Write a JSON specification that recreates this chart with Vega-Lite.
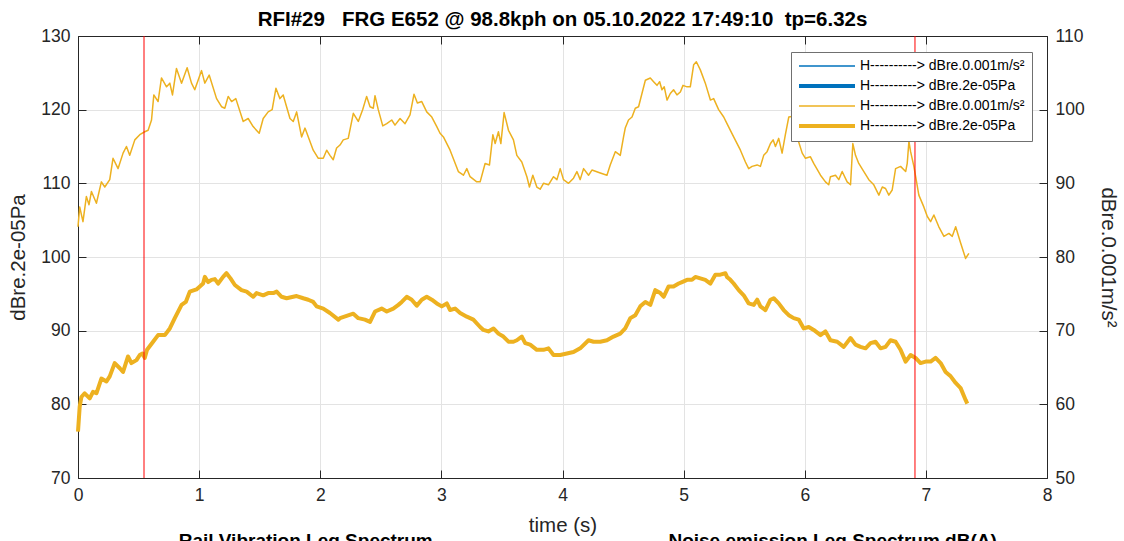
{
  "$schema": "https://vega.github.io/schema/vega-lite/v6.json",
  "width": 969,
  "height": 442,
  "autosize": {"type": "none"},
  "padding": {"left": 78, "top": 36, "right": 77, "bottom": 63},
  "background": "white",
  "title": {
    "text": "RFI#29\u00a0\u00a0\u00a0FRG E652 @ 98.8kph on 05.10.2022 17:49:10\u00a0\u00a0tp=6.32s",
    "font": "Liberation Sans",
    "fontSize": 20.5,
    "fontWeight": "bold",
    "color": "#000000",
    "anchor": "middle",
    "offset": -3
  },
  "config": {
    "view": {"stroke": "#262626", "strokeWidth": 1},
    "font": "Liberation Sans",
    "axis": {
      "labelFont": "Liberation Sans",
      "labelFontSize": 17.5,
      "labelColor": "#262626",
      "labelFlush": false,
      "titleFont": "Liberation Sans",
      "titleFontSize": 20.5,
      "titleFontWeight": "normal",
      "titleColor": "#262626",
      "domainColor": "#262626",
      "tickColor": "#262626",
      "gridColor": "#e3e3e3",
      "tickSize": -8,
      "labelPadding": 16
    },
    "legend": {
      "labelFont": "Liberation Sans"
    }
  },
  "datasets": {
    "vib": [
      {"t":0.000,"v":84.1},{"t":0.014,"v":86.8},{"t":0.041,"v":84.8},{"t":0.069,"v":88.2},{"t":0.091,"v":87.1},{"t":0.111,"v":88.9},{"t":0.152,"v":87.3},{"t":0.193,"v":90.2},{"t":0.221,"v":89.5},{"t":0.262,"v":90.5},{"t":0.289,"v":93.4},{"t":0.331,"v":92.0},{"t":0.372,"v":94.1},{"t":0.400,"v":95.0},{"t":0.427,"v":93.8},{"t":0.469,"v":95.9},{"t":0.510,"v":96.6},{"t":0.551,"v":97.0},{"t":0.579,"v":97.2},{"t":0.607,"v":98.6},{"t":0.626,"v":102.0},{"t":0.661,"v":101.1},{"t":0.689,"v":104.3},{"t":0.731,"v":103.1},{"t":0.758,"v":103.6},{"t":0.780,"v":102.0},{"t":0.813,"v":105.6},{"t":0.855,"v":103.6},{"t":0.901,"v":105.7},{"t":0.937,"v":103.6},{"t":0.964,"v":102.7},{"t":1.020,"v":105.3},{"t":1.047,"v":103.6},{"t":1.083,"v":104.7},{"t":1.144,"v":101.5},{"t":1.185,"v":100.4},{"t":1.212,"v":100.2},{"t":1.240,"v":101.8},{"t":1.268,"v":101.1},{"t":1.303,"v":101.5},{"t":1.364,"v":98.4},{"t":1.405,"v":98.8},{"t":1.446,"v":97.7},{"t":1.496,"v":96.8},{"t":1.529,"v":98.8},{"t":1.570,"v":99.7},{"t":1.603,"v":100.0},{"t":1.634,"v":102.9},{"t":1.667,"v":101.5},{"t":1.694,"v":102.0},{"t":1.750,"v":98.8},{"t":1.777,"v":98.4},{"t":1.805,"v":99.7},{"t":1.846,"v":96.3},{"t":1.874,"v":97.5},{"t":1.942,"v":94.5},{"t":1.984,"v":93.4},{"t":2.025,"v":93.4},{"t":2.053,"v":94.5},{"t":2.080,"v":93.8},{"t":2.107,"v":93.2},{"t":2.135,"v":94.8},{"t":2.163,"v":95.2},{"t":2.190,"v":95.9},{"t":2.231,"v":96.1},{"t":2.273,"v":99.5},{"t":2.314,"v":98.4},{"t":2.350,"v":100.0},{"t":2.383,"v":101.8},{"t":2.411,"v":100.4},{"t":2.438,"v":100.2},{"t":2.452,"v":101.9},{"t":2.479,"v":100.0},{"t":2.516,"v":97.8},{"t":2.549,"v":98.1},{"t":2.590,"v":98.6},{"t":2.617,"v":97.9},{"t":2.659,"v":98.8},{"t":2.700,"v":98.1},{"t":2.741,"v":99.3},{"t":2.774,"v":102.1},{"t":2.802,"v":100.9},{"t":2.838,"v":101.1},{"t":2.879,"v":99.7},{"t":2.921,"v":99.0},{"t":2.962,"v":97.7},{"t":2.989,"v":96.8},{"t":3.017,"v":96.3},{"t":3.072,"v":94.5},{"t":3.140,"v":91.6},{"t":3.182,"v":91.1},{"t":3.210,"v":92.0},{"t":3.237,"v":90.9},{"t":3.292,"v":90.2},{"t":3.320,"v":90.2},{"t":3.361,"v":92.7},{"t":3.397,"v":92.5},{"t":3.425,"v":96.6},{"t":3.444,"v":95.4},{"t":3.471,"v":97.0},{"t":3.491,"v":95.4},{"t":3.518,"v":99.6},{"t":3.554,"v":97.2},{"t":3.595,"v":95.9},{"t":3.623,"v":93.8},{"t":3.664,"v":92.9},{"t":3.706,"v":90.9},{"t":3.727,"v":89.5},{"t":3.755,"v":91.1},{"t":3.788,"v":89.5},{"t":3.816,"v":89.2},{"t":3.843,"v":90.0},{"t":3.884,"v":89.8},{"t":3.926,"v":90.9},{"t":3.954,"v":90.5},{"t":3.981,"v":92.0},{"t":4.008,"v":90.5},{"t":4.050,"v":90.0},{"t":4.091,"v":90.7},{"t":4.119,"v":91.6},{"t":4.146,"v":90.5},{"t":4.174,"v":92.0},{"t":4.215,"v":91.1},{"t":4.243,"v":91.8},{"t":4.312,"v":91.4},{"t":4.367,"v":91.1},{"t":4.394,"v":92.5},{"t":4.436,"v":94.3},{"t":4.477,"v":93.8},{"t":4.504,"v":96.3},{"t":4.518,"v":97.5},{"t":4.545,"v":98.6},{"t":4.574,"v":99.0},{"t":4.601,"v":100.2},{"t":4.628,"v":100.4},{"t":4.656,"v":102.2},{"t":4.684,"v":104.0},{"t":4.725,"v":104.3},{"t":4.752,"v":103.8},{"t":4.780,"v":103.3},{"t":4.802,"v":103.8},{"t":4.821,"v":102.7},{"t":4.840,"v":103.1},{"t":4.863,"v":101.3},{"t":4.890,"v":102.2},{"t":4.917,"v":102.7},{"t":4.945,"v":102.0},{"t":4.973,"v":102.4},{"t":4.995,"v":103.3},{"t":5.028,"v":103.1},{"t":5.055,"v":103.1},{"t":5.083,"v":106.1},{"t":5.105,"v":106.5},{"t":5.138,"v":105.4},{"t":5.179,"v":103.6},{"t":5.221,"v":101.3},{"t":5.248,"v":101.5},{"t":5.289,"v":100.0},{"t":5.331,"v":99.0},{"t":5.358,"v":98.1},{"t":5.413,"v":96.3},{"t":5.469,"v":94.5},{"t":5.510,"v":92.9},{"t":5.537,"v":92.0},{"t":5.565,"v":92.3},{"t":5.607,"v":92.5},{"t":5.634,"v":92.3},{"t":5.661,"v":93.8},{"t":5.689,"v":94.3},{"t":5.717,"v":95.4},{"t":5.739,"v":95.9},{"t":5.758,"v":95.0},{"t":5.785,"v":96.1},{"t":5.813,"v":94.1},{"t":5.840,"v":96.6},{"t":5.868,"v":99.0},{"t":5.907,"v":99.1},{"t":5.937,"v":96.3},{"t":5.979,"v":94.1},{"t":6.006,"v":93.4},{"t":6.047,"v":93.6},{"t":6.074,"v":92.7},{"t":6.130,"v":91.1},{"t":6.171,"v":90.2},{"t":6.198,"v":89.8},{"t":6.212,"v":90.9},{"t":6.254,"v":91.1},{"t":6.281,"v":90.5},{"t":6.309,"v":91.6},{"t":6.350,"v":90.2},{"t":6.378,"v":89.8},{"t":6.397,"v":95.4},{"t":6.419,"v":93.8},{"t":6.446,"v":92.7},{"t":6.488,"v":91.6},{"t":6.529,"v":90.5},{"t":6.570,"v":89.8},{"t":6.612,"v":88.4},{"t":6.640,"v":89.5},{"t":6.667,"v":89.3},{"t":6.694,"v":88.4},{"t":6.722,"v":89.1},{"t":6.750,"v":92.0},{"t":6.791,"v":92.3},{"t":6.833,"v":91.6},{"t":6.846,"v":92.7},{"t":6.860,"v":95.7},{"t":6.874,"v":94.3},{"t":6.901,"v":92.3},{"t":6.942,"v":88.4},{"t":6.983,"v":86.8},{"t":7.012,"v":85.5},{"t":7.039,"v":84.8},{"t":7.066,"v":85.7},{"t":7.107,"v":84.1},{"t":7.149,"v":82.8},{"t":7.190,"v":83.2},{"t":7.218,"v":82.8},{"t":7.246,"v":84.1},{"t":7.287,"v":81.9},{"t":7.328,"v":79.8},{"t":7.355,"v":80.5}
    ],
    "noise": [
      {"t":0.000,"v":76.3},{"t":0.014,"v":79.7},{"t":0.028,"v":81.0},{"t":0.055,"v":81.5},{"t":0.097,"v":80.8},{"t":0.124,"v":81.7},{"t":0.152,"v":81.5},{"t":0.193,"v":83.5},{"t":0.235,"v":83.1},{"t":0.262,"v":83.8},{"t":0.303,"v":85.6},{"t":0.345,"v":84.9},{"t":0.372,"v":84.4},{"t":0.413,"v":86.5},{"t":0.441,"v":85.6},{"t":0.483,"v":86.0},{"t":0.510,"v":86.7},{"t":0.532,"v":86.9},{"t":0.551,"v":86.3},{"t":0.570,"v":87.4},{"t":0.620,"v":88.5},{"t":0.661,"v":89.4},{"t":0.717,"v":89.4},{"t":0.758,"v":90.3},{"t":0.799,"v":91.7},{"t":0.855,"v":93.5},{"t":0.890,"v":93.9},{"t":0.923,"v":95.3},{"t":0.978,"v":95.6},{"t":1.006,"v":96.0},{"t":1.033,"v":96.4},{"t":1.047,"v":97.3},{"t":1.074,"v":96.6},{"t":1.102,"v":96.9},{"t":1.130,"v":97.0},{"t":1.157,"v":96.4},{"t":1.198,"v":97.3},{"t":1.226,"v":97.8},{"t":1.259,"v":97.1},{"t":1.295,"v":96.2},{"t":1.350,"v":95.5},{"t":1.392,"v":95.3},{"t":1.446,"v":94.6},{"t":1.474,"v":95.1},{"t":1.529,"v":94.8},{"t":1.570,"v":95.1},{"t":1.612,"v":95.1},{"t":1.640,"v":95.3},{"t":1.681,"v":94.6},{"t":1.722,"v":94.4},{"t":1.777,"v":94.6},{"t":1.805,"v":94.7},{"t":1.860,"v":94.4},{"t":1.901,"v":94.2},{"t":1.942,"v":93.9},{"t":1.970,"v":93.3},{"t":2.025,"v":93.0},{"t":2.080,"v":92.4},{"t":2.149,"v":91.5},{"t":2.163,"v":91.7},{"t":2.218,"v":92.0},{"t":2.273,"v":92.3},{"t":2.314,"v":91.7},{"t":2.369,"v":91.5},{"t":2.411,"v":91.2},{"t":2.452,"v":92.6},{"t":2.507,"v":93.0},{"t":2.549,"v":92.6},{"t":2.603,"v":93.0},{"t":2.645,"v":93.5},{"t":2.673,"v":93.9},{"t":2.714,"v":94.6},{"t":2.755,"v":94.2},{"t":2.797,"v":93.4},{"t":2.838,"v":94.2},{"t":2.879,"v":94.6},{"t":2.921,"v":94.2},{"t":2.962,"v":93.7},{"t":3.003,"v":93.3},{"t":3.045,"v":93.7},{"t":3.072,"v":92.8},{"t":3.113,"v":93.0},{"t":3.155,"v":92.4},{"t":3.210,"v":91.9},{"t":3.264,"v":91.5},{"t":3.320,"v":90.5},{"t":3.347,"v":90.1},{"t":3.388,"v":89.9},{"t":3.430,"v":90.3},{"t":3.471,"v":89.6},{"t":3.512,"v":89.2},{"t":3.554,"v":88.5},{"t":3.595,"v":88.5},{"t":3.623,"v":88.7},{"t":3.664,"v":89.2},{"t":3.692,"v":88.3},{"t":3.733,"v":88.1},{"t":3.788,"v":87.4},{"t":3.843,"v":87.4},{"t":3.884,"v":87.6},{"t":3.926,"v":86.7},{"t":3.981,"v":86.7},{"t":4.036,"v":86.9},{"t":4.091,"v":87.1},{"t":4.146,"v":87.6},{"t":4.215,"v":88.7},{"t":4.256,"v":88.5},{"t":4.312,"v":88.5},{"t":4.367,"v":88.7},{"t":4.421,"v":89.2},{"t":4.477,"v":89.6},{"t":4.518,"v":90.3},{"t":4.560,"v":91.7},{"t":4.601,"v":92.1},{"t":4.642,"v":93.3},{"t":4.684,"v":93.9},{"t":4.725,"v":93.5},{"t":4.766,"v":95.5},{"t":4.808,"v":95.1},{"t":4.835,"v":94.6},{"t":4.876,"v":96.0},{"t":4.917,"v":96.0},{"t":4.959,"v":96.4},{"t":4.987,"v":96.6},{"t":5.028,"v":96.9},{"t":5.069,"v":96.9},{"t":5.097,"v":97.3},{"t":5.138,"v":97.1},{"t":5.179,"v":96.9},{"t":5.221,"v":96.4},{"t":5.262,"v":97.6},{"t":5.303,"v":97.6},{"t":5.345,"v":97.8},{"t":5.358,"v":97.3},{"t":5.386,"v":96.9},{"t":5.413,"v":96.4},{"t":5.455,"v":95.5},{"t":5.496,"v":94.8},{"t":5.537,"v":93.7},{"t":5.579,"v":93.5},{"t":5.607,"v":94.2},{"t":5.634,"v":93.3},{"t":5.675,"v":92.8},{"t":5.717,"v":94.2},{"t":5.744,"v":94.4},{"t":5.785,"v":93.7},{"t":5.826,"v":92.8},{"t":5.868,"v":92.1},{"t":5.909,"v":91.7},{"t":5.950,"v":91.5},{"t":5.992,"v":90.3},{"t":6.033,"v":90.5},{"t":6.074,"v":90.1},{"t":6.130,"v":89.4},{"t":6.171,"v":89.9},{"t":6.212,"v":88.7},{"t":6.268,"v":88.5},{"t":6.322,"v":87.8},{"t":6.378,"v":89.0},{"t":6.419,"v":88.1},{"t":6.460,"v":87.8},{"t":6.502,"v":87.6},{"t":6.543,"v":88.3},{"t":6.584,"v":88.5},{"t":6.626,"v":87.6},{"t":6.667,"v":87.8},{"t":6.708,"v":88.7},{"t":6.750,"v":88.5},{"t":6.791,"v":87.4},{"t":6.833,"v":85.8},{"t":6.874,"v":86.7},{"t":6.915,"v":86.3},{"t":6.956,"v":85.6},{"t":6.998,"v":85.8},{"t":7.039,"v":85.8},{"t":7.080,"v":86.3},{"t":7.122,"v":85.6},{"t":7.163,"v":84.4},{"t":7.205,"v":83.8},{"t":7.246,"v":82.9},{"t":7.287,"v":82.2},{"t":7.328,"v":80.6},{"t":7.342,"v":80.1}
    ]
  },
  "layer": [
    {
      "data": {"name": "noise"},
      "mark": {"type": "line", "strokeWidth": 4, "strokeJoin": "round"},
      "encoding": {
        "x": {
          "field": "t", "type": "quantitative",
          "scale": {"domain": [0, 8], "nice": false},
          "axis": {"orient": "bottom", "title": "time (s)", "values": [0,1,2,3,4,5,6,7,8], "grid": true, "titlePadding": 12}
        },
        "y": {
          "field": "v", "type": "quantitative",
          "scale": {"domain": [70, 130], "nice": false, "zero": false},
          "axis": {"orient": "left", "title": "dBre.2e-05Pa", "values": [70,80,90,100,110,120,130], "grid": true, "titlePadding": 12}
        },
        "color": {
          "datum": "noise", "type": "nominal",
          "scale": {"domain": ["vibB", "noiseB", "vib", "noise"], "range": ["#0072BD", "#0072BD", "#EDB120", "#EDB120"]},
          "legend": {
            "orient": "none",
            "legendX": 713,
            "legendY": 16,
            "title": null,
            "direction": "vertical",
            "symbolType": "stroke",
            "symbolSize": 3136,
            "symbolStrokeWidth": 2,
            "symbolOffset": 22,
            "labelFontSize": 14,
            "labelColor": "#000000",
            "labelOffset": 26,
            "labelLimit": 400,
            "fillColor": "white",
            "strokeColor": "#707070",
            "padding": 7,
            "rowPadding": 5,
            "labelExpr": "indexof(['vibB','vib'], datum.value) >= 0 ? 'H----------> dBre.0.001m/s²' : 'H----------> dBre.2e-05Pa'",
            "encode": {
              "symbols": {"update": {"strokeWidth": {"signal": "indexof(['vibB','vib'], datum.value) >= 0 ? 1.5 : 4"}}}
            }
          }
        }
      }
    },
    {
      "data": {"name": "vib"},
      "mark": {"type": "line", "strokeWidth": 1.5, "strokeJoin": "round"},
      "encoding": {
        "x": {
          "field": "t", "type": "quantitative",
          "scale": {"domain": [0, 8], "nice": false},
          "axis": {"orient": "top", "title": null, "labels": false, "values": [0,1,2,3,4,5,6,7,8], "grid": false}
        },
        "y": {
          "field": "v", "type": "quantitative",
          "scale": {"domain": [50, 110], "nice": false, "zero": false},
          "axis": {"orient": "right", "title": "dBre.0.001m/s²", "values": [50,60,70,80,90,100,110], "grid": false, "titlePadding": 13}
        },
        "color": {"datum": "vib", "type": "nominal"}
      }
    },
    {
      "data": {"values": [{"t": 0.545}, {"t": 6.91}]},
      "mark": {"type": "rule", "color": "#FF0000", "strokeWidth": 1},
      "encoding": {
        "x": {"field": "t", "type": "quantitative", "scale": {"domain": [0, 8], "nice": false}, "axis": null}
      }
    },
    {
      "data": {"values": [
        {"label": "Rail Vibration Leq Spectrum", "t": 1.88, "v": 60.6},
        {"label": "Noise emission Leq Spectrum dB(A)", "t": 6.23, "v": 60.6}
      ]},
      "mark": {"type": "text", "font": "Liberation Sans", "fontSize": 19, "fontWeight": "bold", "color": "#000000", "baseline": "alphabetic", "align": "center"},
      "encoding": {
        "x": {"field": "t", "type": "quantitative", "scale": {"domain": [0, 8], "nice": false}, "axis": null},
        "y": {"field": "v", "type": "quantitative", "scale": {"domain": [70, 130], "nice": false, "zero": false}, "axis": null},
        "text": {"field": "label"}
      }
    }
  ],
  "resolve": {"scale": {"x": "independent", "y": "independent"}}
}
